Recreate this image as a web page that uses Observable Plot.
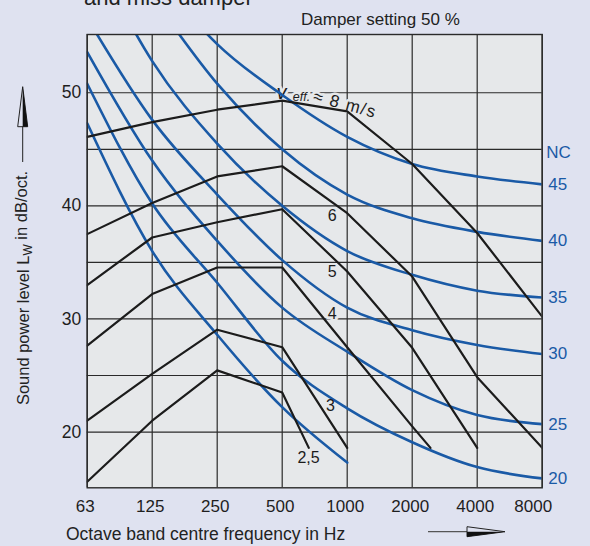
<!DOCTYPE html>
<html><head><meta charset="utf-8">
<script src="https://cdn.jsdelivr.net/npm/d3@7"></script>
<script src="https://cdn.jsdelivr.net/npm/@observablehq/plot@0.6"></script>
<style>
html,body{margin:0;padding:0;background:#dfe2f0;}
#chart{width:590px;height:546px;overflow:hidden;position:relative;}
</style></head><body><div id="chart"></div>
<script>
// ---- axis data ----
const octaveHz = [62.5, 125, 250, 500, 1000, 2000, 4000, 8000];
const xLabels = ["63", "125", "250", "500", "1000", "2000", "4000", "8000"];
const yTicks = [20, 30, 40, 50];
const yGrid = [20, 25, 30, 35, 40, 45, 50];

// ---- black curves: sound power level for v_eff ----
const velocityNames = ["8", "6", "5", "4", "3", "2,5"];
const v8Hz = [62.5, 125, 250, 500, 1000, 2000, 4000, 8000];
const v8Lw = [46.1, 47.4, 48.5, 49.3, 48.35, 43.7, 37.6, 30.2];
const v6Hz = [62.5, 125, 250, 500, 1000, 2000, 4000, 8000];
const v6Lw = [37.5, 40.25, 42.6, 43.5, 39.35, 33.75, 24.85, 18.6];
const v5Hz = [62.5, 125, 250, 500, 1000, 2000, 4000];
const v5Lw = [33.0, 37.2, 38.55, 39.7, 34.2, 27.45, 18.6];
const v4Hz = [62.5, 125, 250, 500, 1000, 2000, 2430];
const v4Lw = [27.65, 32.2, 34.55, 34.55, 27.5, 20.5, 18.6];
const v3Hz = [62.5, 125, 250, 500, 1000];
const v3Lw = [21.0, 25.15, 29.05, 27.5, 18.6];
const v25Hz = [62.5, 125, 250, 500, 664];
const v25Lw = [15.6, 21.0, 25.45, 23.5, 18.6];

// ---- blue NC curves ----
const ncNames = ["15", "20", "25", "30", "35", "40", "45"];
const nc15Hz = [62.5, 125, 250, 500, 1000];
const nc15 = [47.3, 36.0, 28.6, 22.2, 17.3];
const nc20 = [50.8, 40.2, 33.2, 26.3, 22.1, 19.1, 16.9, 15.9];
const nc25 = [53.6, 44.0, 36.9, 31.0, 27.1, 23.7, 21.5, 20.7];
const nc30 = [56.6, 47.6, 41.0, 35.2, 31.0, 29.0, 27.7, 26.9];
const nc35 = [63.5, 52.8, 45.5, 40.0, 36.0, 33.9, 32.5, 31.9];
const nc40 = [67.0, 58.5, 50.8, 45.0, 41.0, 38.9, 37.7, 36.9];
const nc45 = [70.0, 61.0, 54.3, 49.8, 46.1, 43.7, 42.6, 41.9];
const ncRightLabels = ["20", "25", "30", "35", "40", "45"];

// ---- curve labels (read positions) ----
const vLabelText = ["6", "5", "4", "3", "2,5"];
const vLabelHz = [852, 852, 852, 837, 662];
const vLabelLw = [39.15, 34.2, 30.45, 22.35, 17.7];

const rows = (name, hz, lw) => hz.map((f, i) => ({name, f, L: lw[i]}));
const blackRows = [
  ...rows("8", v8Hz, v8Lw), ...rows("6", v6Hz, v6Lw), ...rows("5", v5Hz, v5Lw),
  ...rows("4", v4Hz, v4Lw), ...rows("3", v3Hz, v3Lw), ...rows("2,5", v25Hz, v25Lw)
];
const ncData = {"15": [nc15Hz, nc15], "20": [octaveHz, nc20], "25": [octaveHz, nc25],
  "30": [octaveHz, nc30], "35": [octaveHz, nc35], "40": [octaveHz, nc40], "45": [octaveHz, nc45]};
const blueRows = ncNames.flatMap(n => rows(n, ncData[n][0], ncData[n][1]));
const ncEnd = ncRightLabels.map(n => ({name: n, f: 8000, L: ncData[n][1][7]}));
const vLabels = vLabelText.map((t, i) => ({t, f: vLabelHz[i], L: vLabelLw[i]}));
const haloLabels = vLabels.filter(d => d.t === "4");
const plainLabels = vLabels.filter(d => d.t !== "4");

const BG = "#e6e8ea", BLUE = "#1a5aa6", INK = "#1c1c1c", GRID = "#2a2a2a";
const fmt = f => xLabels[octaveHz.indexOf(f)];

const chart = Plot.plot({
  width: 590, height: 546,
  marginLeft: 86.7, marginRight: 48.3, marginTop: 34, marginBottom: 58.7,
  x: {type: "log", domain: [62.5, 8000], axis: null},
  y: {domain: [15.07, 55.15], axis: null},
  style: {background: "transparent", fontFamily: "'Liberation Sans', Arial, sans-serif", color: "#1e1e1e", overflow: "visible"},
  marks: [
    Plot.frame({fill: BG}),
    Plot.ruleX(octaveHz, {stroke: GRID, strokeWidth: 1.2}),
    Plot.ruleY(yGrid, {stroke: GRID, strokeWidth: 1.2}),
    Plot.text(["v"], {x: 496, y: 49.98, text: d => d, fontSize: 20, fontStyle: "italic", fill: INK, stroke: BG, strokeWidth: 5}),
    Plot.text(["eff."], {x: 560, y: 49.58, text: d => d, textAnchor: "start", fontSize: 12.5, fontStyle: "italic", fill: INK, stroke: BG, strokeWidth: 5}),
    Plot.text(["≈ 8 m/s"], {x: 700, y: 49.72, text: d => d, fontSize: 17, rotate: 15, textAnchor: "start", fill: INK, stroke: BG, strokeWidth: 5}),
    Plot.text(haloLabels, {x: "f", y: "L", text: "t", fontSize: 16, fill: INK, stroke: BG, strokeWidth: 6}),
    Plot.line(blueRows, {x: "f", y: "L", z: "name", stroke: BLUE, strokeWidth: 2.6, curve: "monotone-x", clip: true}),
    Plot.line(blackRows, {x: "f", y: "L", z: "name", stroke: INK, strokeWidth: 2.2, clip: true}),
    Plot.frame({stroke: GRID, strokeWidth: 1.4}),
    Plot.text(plainLabels, {x: "f", y: "L", text: "t", fontSize: 16, fill: INK}),
    Plot.text(ncEnd, {x: "f", y: "L", text: "name", dx: 6, textAnchor: "start", fontSize: 17, fill: BLUE}),
    Plot.text(["NC"], {x: 8000, y: 44.72, text: d => d, dx: 4, textAnchor: "start", fontSize: 17, fill: BLUE}),
    // x tick labels
    Plot.text(octaveHz.slice(0, 7), {x: d => d, text: fmt, frameAnchor: "bottom", dy: 24, dx: -2, fontSize: 17, fill: "#1e1e1e"}),
    Plot.text([8000], {x: d => d, text: fmt, frameAnchor: "bottom", dy: 24, dx: -9, fontSize: 17, fill: "#1e1e1e"}),
    // y tick labels
    Plot.text(yTicks, {y: d => d, text: d => String(d), frameAnchor: "left", dx: -6, textAnchor: "end", fontSize: 17.5, fill: "#1e1e1e"})
  ]
});
document.getElementById("chart").appendChild(chart);

d3.select(chart).selectAll("text").filter(function() { return this.textContent === "≈ 8 m/s"; })
  .style("letter-spacing", "1.3px");

// ---- titles and arrows ----
const svg = d3.select(chart);
const ink = "#222";
svg.append("text").attr("x", 84).attr("y", 5).attr("text-anchor", "start").attr("font-size", 22).attr("fill", ink).text("and miss damper");
svg.append("text").attr("x", 301).attr("y", 25).attr("text-anchor", "start").attr("font-size", 17).attr("fill", ink).text("Damper setting 50 %");
const yt = svg.append("text").attr("transform", "translate(28.5,288) rotate(-90)")
  .attr("text-anchor", "middle").attr("font-size", 16.5).attr("fill", ink);
yt.append("tspan").text("Sound power level L");
yt.append("tspan").attr("font-size", 12).attr("dy", "0.3em").text("W");
yt.append("tspan").attr("dy", "-0.3em").text(" in dB/oct.");
svg.append("text").attr("x", 66).attr("y", 540).attr("text-anchor", "start").attr("font-size", 17.5).attr("fill", ink).text("Octave band centre frequency in Hz");
// y arrow
svg.append("line").attr("x1", 22.7).attr("x2", 22.7).attr("y1", 126.7).attr("y2", 162).attr("stroke", ink).attr("stroke-width", 1);
svg.append("polygon").attr("points", "22.7,86.7 17.7,126.7 27.7,126.7").attr("fill", "none").attr("stroke", ink).attr("stroke-width", 1);
svg.append("polygon").attr("points", "22.7,86.7 22.7,126.7 27.7,126.7").attr("fill", "#111");
// x arrow
svg.append("line").attr("x1", 428).attr("x2", 467).attr("y1", 531.7).attr("y2", 531.7).attr("stroke", "#555").attr("stroke-width", 1.2);
svg.append("polygon").attr("points", "467,526.7 505,531.7 467,536.7").attr("fill", "none").attr("stroke", ink).attr("stroke-width", 1);
svg.append("polygon").attr("points", "467,531.7 505,531.7 467,536.7").attr("fill", "#111");
</script></body></html>
